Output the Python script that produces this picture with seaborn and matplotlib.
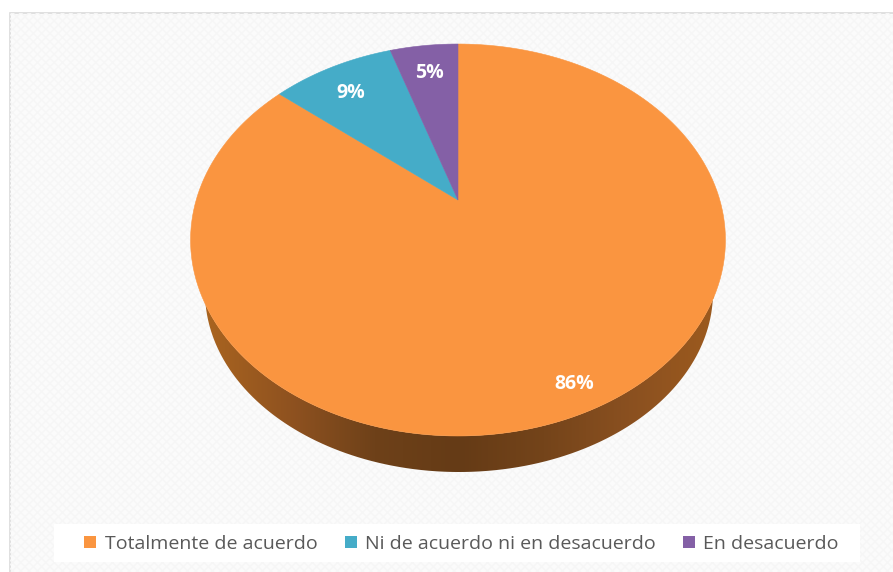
import numpy as np
import matplotlib
matplotlib.use("Agg")
import matplotlib.pyplot as plt
from matplotlib.patches import Patch, Polygon, Rectangle
from matplotlib.colors import LinearSegmentedColormap
import seaborn as sns

# Survey answers, in percent
categories = ["Totalmente de acuerdo", "Ni de acuerdo ni en desacuerdo", "En desacuerdo"]
shares = [86, 9, 5]
slice_colors = ["#FA9540", "#45ACC8", "#8460A6"]
label_pixels = [(574, 384), (351, 93), (429, 73)]

W, H = 893, 572
sns.set_theme(style="white")
plt.rcParams["font.family"] = ["Open Sans", "DejaVu Sans"]
palette = sns.color_palette(slice_colors)

fig = plt.figure(figsize=(W / 100, H / 100), dpi=100, facecolor="white")
ax = fig.add_axes([0, 0, 1, 1])

# Chart area with its thin border and faint woven texture
ax.add_patch(Rectangle((9.5, 12.5), 900, 600, facecolor="#FBFBFB", edgecolor="#DADADA",
                       linewidth=1.2, zorder=0))
ax.add_patch(Rectangle((10, 13), 900, 600, facecolor="none", edgecolor="#F6F6F6",
                       hatch="xxxx", linewidth=0, zorder=0.1))
# White strip behind the legend
ax.add_patch(Rectangle((54, 524), 806, 38, facecolor="white", edgecolor="none", zorder=0.2))


def tilt(points):
    """Perspective view of the unit-circle pie, returned in pixel coordinates."""
    u, v = points[:, 0], points[:, 1]
    d = 0.2041 * v + 1
    return np.column_stack((458 + 261.8 * u / d, (200 - 147.0 * v) / d))


# Side wall of the disc: gradient clipped to the outer lower ellipse
t = np.linspace(0, np.pi, 300)
rim = tilt(np.column_stack((np.cos(t), -np.sin(t))))
lower = np.column_stack((459 + 254 * np.cos(t), 292 + 180 * np.sin(t)))
wall = Polygon(np.vstack((lower, rim[::-1])), closed=True, facecolor="none",
               edgecolor="none", transform=ax.transData)
ax.add_patch(wall)
wall_cmap = LinearSegmentedColormap.from_list(
    "wall", ["#A9641F", "#8F5220", "#6E4119", "#653B16", "#74441A", "#8A5020", "#9C5A1E"])
img = ax.imshow(np.linspace(0, 1, 256)[None, :], cmap=wall_cmap, aspect="auto",
                extent=(205, 714, 480, 230), zorder=1)
img.set_clip_path(wall)

# Pie built on the unit circle, then laid down in perspective
wedges, _, autotexts = ax.pie(shares, colors=palette, startangle=90, counterclock=False,
                              autopct="%.0f%%", frame=True)
for wedge, color in zip(wedges, palette):
    angles = np.radians(np.linspace(wedge.theta1, wedge.theta2, 240))
    arc = np.column_stack((np.cos(angles), np.sin(angles)))
    outline = np.vstack(([[0.0, 0.0]], arc))
    ax.add_patch(Polygon(tilt(outline), closed=True, facecolor=color,
                         edgecolor=color, linewidth=0.4, zorder=2))
    wedge.set_visible(False)

for text, (x, y) in zip(autotexts, label_pixels):
    text.set(position=(x, y), color="white", fontsize=14, fontweight="bold",
             ha="center", va="center", zorder=3)

ax.set_xlim(0, W)
ax.set_ylim(H, 0)
ax.set_aspect("auto")
ax.axis("off")

# Legend along the bottom
handles = [Patch(facecolor=c, edgecolor="none") for c in palette]
leg = ax.legend(handles, categories, ncol=3, loc="center", bbox_to_anchor=(461.5 / W, 1 - 544 / H),
                frameon=False, fontsize=14, handlelength=0.62, handleheight=0.62,
                handletextpad=0.42, columnspacing=1.4, labelcolor="#595959",
                borderpad=0, borderaxespad=0)
leg.set_zorder(4)

fig.savefig("out.png", dpi=100)
